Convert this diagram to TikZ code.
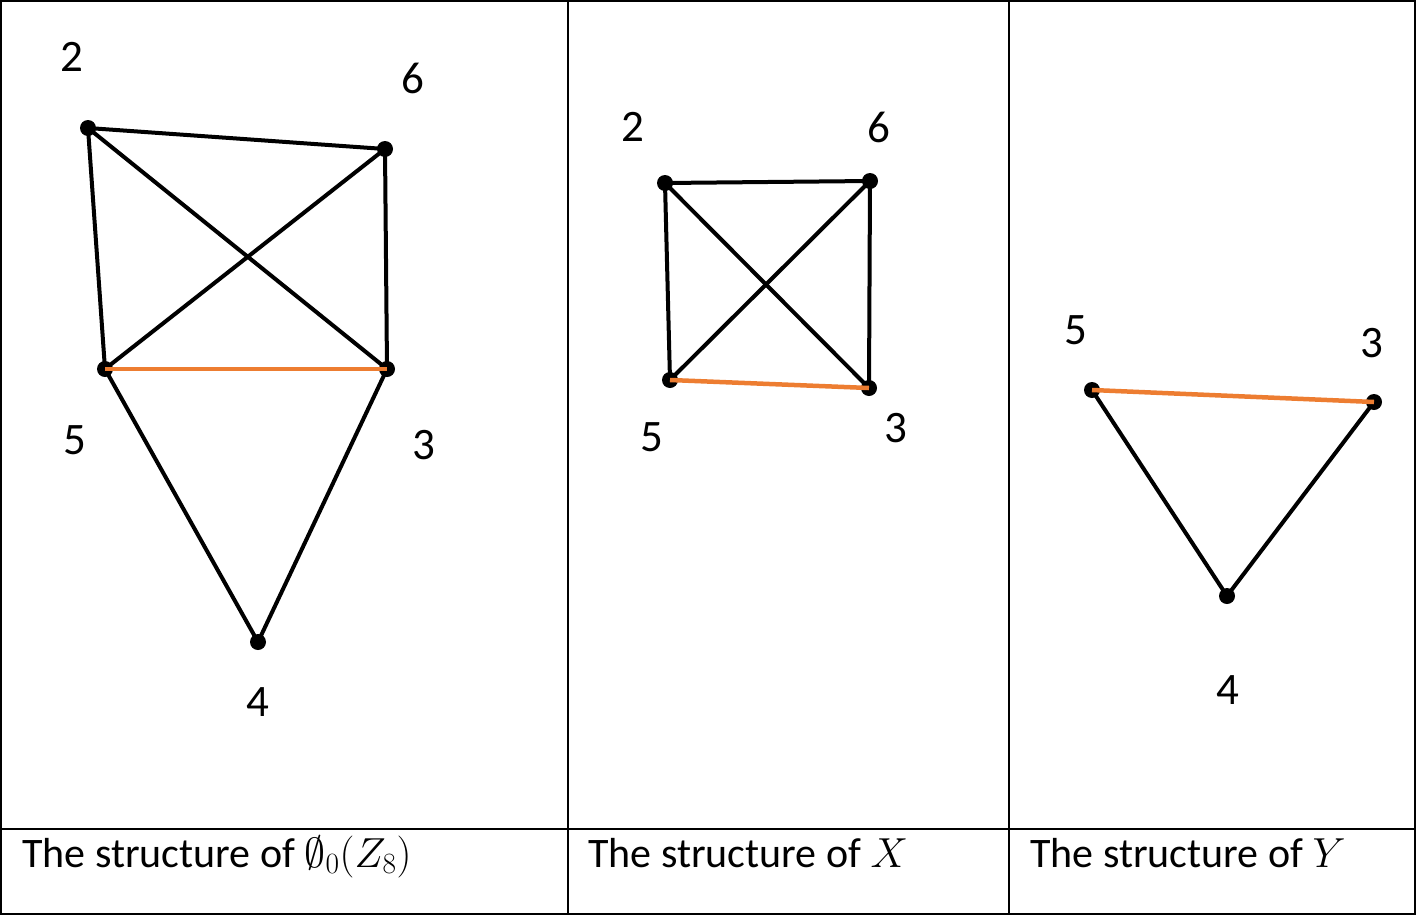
\RequirePackage{fix-cm}
\documentclass[tikz,border=0pt]{standalone}
\usepackage[no-math]{fontspec}
\setmainfont{Carlito}
\definecolor{edgeorange}{HTML}{ED7D31}
\begin{document}
\begin{tikzpicture}[x=1pt,y=-1pt,
  vdot/.style={circle,fill=black,inner sep=0pt,minimum size=16pt},
  vlabel/.style={inner sep=0pt,font=\fontsize{45}{54}\selectfont},
  caption/.style={inner sep=0pt,anchor=base west,font=\fontsize{42}{50}\selectfont},
  edge/.style={line width=4pt,black},
  hedge/.style={line width=4.5pt,edgeorange},
  grid/.style={line width=1.5pt,black}]
\useasboundingbox (0,0) rectangle (1417,916);
% table
\draw[grid] (1,1) rectangle (1415,914);
\draw[grid] (1,829) -- (1415,829);
\draw[grid] (568,1) -- (568,914);
\draw[grid] (1009,1) -- (1009,914);
% ---------- left panel
\node[vdot] (a2) at (88,128) {};
\node[vdot] (a6) at (385,149) {};
\node[vdot] (a5) at (105,369) {};
\node[vdot] (a3) at (387,369) {};
\node[vdot] (a4) at (258,642) {};
\draw[edge] (a2.center) -- (a6.center);
\draw[edge] (a2.center) -- (a5.center);
\draw[edge] (a2.center) -- (a3.center);
\draw[edge] (a6.center) -- (a5.center);
\draw[edge] (a6.center) -- (a3.center);
\draw[edge] (a5.center) -- (a4.center);
\draw[edge] (a3.center) -- (a4.center);
\draw[hedge] (a5.center) -- (a3.center);
\node[vlabel] (la2) at (72,57) {2};
\node[vlabel] (la6) at (413,78) {6};
\node[vlabel] (la5) at (75,440) {5};
\node[vlabel] (la3) at (424,445) {3};
\node[vlabel] (la4) at (258,702) {4};
% ---------- middle panel
\node[vdot] (b2) at (665,183) {};
\node[vdot] (b6) at (870,181) {};
\node[vdot] (b5) at (670,380) {};
\node[vdot] (b3) at (869,388) {};
\draw[edge] (b2.center) -- (b6.center);
\draw[edge] (b2.center) -- (b5.center);
\draw[edge] (b2.center) -- (b3.center);
\draw[edge] (b6.center) -- (b5.center);
\draw[edge] (b6.center) -- (b3.center);
\draw[hedge] (b5.center) -- (b3.center);
\node[vlabel] (lb2) at (633,127) {2};
\node[vlabel] (lb6) at (879,127) {6};
\node[vlabel] (lb5) at (652,437) {5};
\node[vlabel] (lb3) at (896,428) {3};
% ---------- right panel
\node[vdot] (c5) at (1092,390) {};
\node[vdot] (c3) at (1374,402) {};
\node[vdot] (c4) at (1227,596) {};
\draw[edge] (c5.center) -- (c4.center);
\draw[edge] (c3.center) -- (c4.center);
\draw[hedge] (c5.center) -- (c3.center);
\node[vlabel] (lc5) at (1076,330) {5};
\node[vlabel] (lc3) at (1372,343) {3};
\node[vlabel] (lc4) at (1228,690) {4};
% ---------- captions
\node[caption] (cap1) at (22,867) {The structure of $\emptyset_0(Z_8)$};
\node[caption] (cap2) at (588,867) {The structure of $X$};
\node[caption] (cap3) at (1030,867) {The structure of $Y$};
\end{tikzpicture}
\end{document}
